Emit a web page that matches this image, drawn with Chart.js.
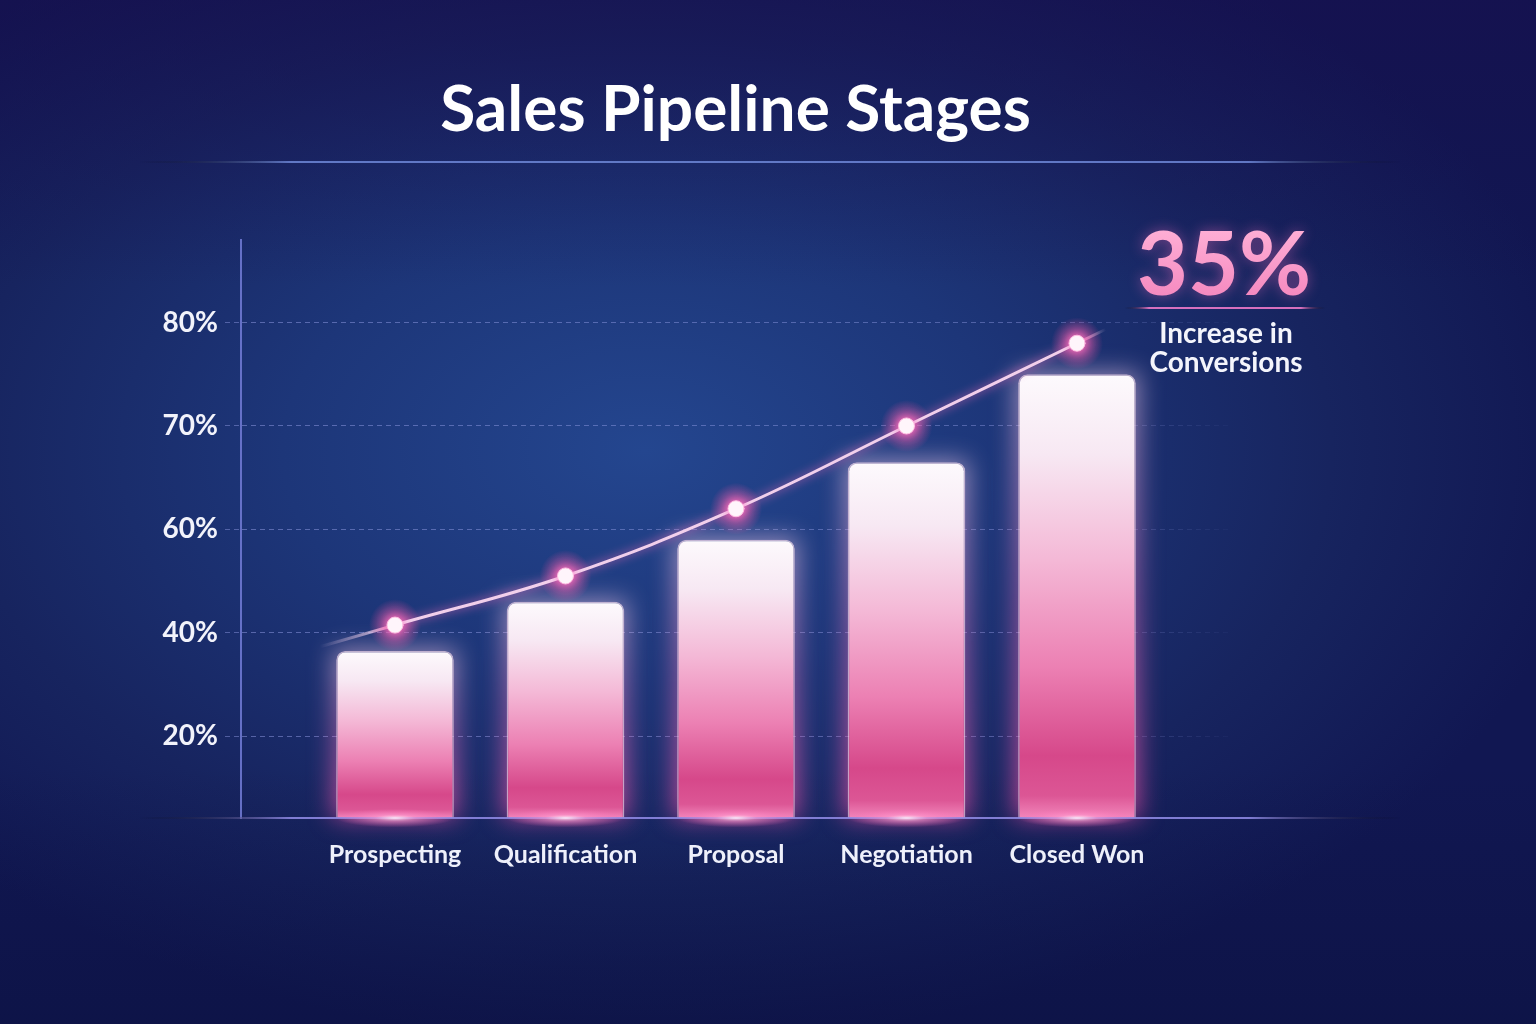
<!DOCTYPE html>
<html>
<head>
<meta charset="utf-8">
<title>Sales Pipeline Stages</title>
<script src="https://cdn.jsdelivr.net/npm/chart.js@4.4.1/dist/chart.umd.min.js"></script>
<style>
  html, body { margin: 0; padding: 0; width: 1536px; height: 1024px; overflow: hidden; }
  body {
    background:
      linear-gradient(to bottom, rgba(24,14,78,0.55) 0%, rgba(24,14,78,0) 28%, rgba(10,16,60,0) 75%, rgba(10,16,60,0.45) 100%),
      radial-gradient(ellipse 62% 58% at 42% 44%, #24468f 0%, #1d3679 38%, #17245f 72%, #111752 100%);
    background-color: #111752;
  }
  #wrap { position: absolute; left: 0; top: 0; width: 1536px; height: 1024px; }
</style>
</head>
<body>
<div id="wrap"><canvas id="c" width="1536" height="1024"></canvas></div>
<script>
// ---------------- data ----------------
const chartTitle = 'Sales Pipeline Stages';
const categories = ['Prospecting', 'Qualification', 'Proposal', 'Negotiation', 'Closed Won'];
const barValues = [36.5, 46, 58, 66.5, 75];
const lineValues = [41.5, 51, 62, 70, 78];
const yTickValues = [20, 40, 60, 70, 80];
const yTickLabels = ['20%', '40%', '60%', '70%', '80%'];
const highlightValue = '35%';
const highlightCaption = ['Increase in', 'Conversions'];

// ------------- stage (piecewise) scale: ticks evenly spaced -------------
const VALUE_KNOTS = [0, 20, 40, 60, 70, 80];
const UNIT_KNOTS = [0.21, 1, 2, 3, 4, 5];
function toUnit(v) {
  const n = VALUE_KNOTS.length;
  let i = 0;
  if (v <= VALUE_KNOTS[0]) i = 0;
  else if (v >= VALUE_KNOTS[n - 1]) i = n - 2;
  else { while (i < n - 2 && v > VALUE_KNOTS[i + 1]) i++; }
  const v0 = VALUE_KNOTS[i], v1 = VALUE_KNOTS[i + 1], u0 = UNIT_KNOTS[i], u1 = UNIT_KNOTS[i + 1];
  return u0 + (v - v0) / (v1 - v0) * (u1 - u0);
}
function fromUnit(u) {
  const n = UNIT_KNOTS.length;
  let i = 0;
  if (u <= UNIT_KNOTS[0]) i = 0;
  else if (u >= UNIT_KNOTS[n - 1]) i = n - 2;
  else { while (i < n - 2 && u > UNIT_KNOTS[i + 1]) i++; }
  const v0 = VALUE_KNOTS[i], v1 = VALUE_KNOTS[i + 1], u0 = UNIT_KNOTS[i], u1 = UNIT_KNOTS[i + 1];
  return v0 + (u - u0) / (u1 - u0) * (v1 - v0);
}
class StageScale extends Chart.LinearScale {
  static id = 'stage';
  static defaults = {};
  buildTicks() { return yTickValues.map(v => ({ value: v })); }
  getPixelForValue(value) {
    if (value === null || value === undefined || isNaN(value)) return NaN;
    const a = toUnit(this.min), b = toUnit(this.max);
    return this.getPixelForDecimal((toUnit(value) - a) / (b - a));
  }
  getValueForPixel(pixel) {
    const a = toUnit(this.min), b = toUnit(this.max);
    return fromUnit(a + this.getDecimalForPixel(pixel) * (b - a));
  }
}
Chart.register(StageScale);

// ------------- styling helpers -------------
const FONT = 'Lato, "Open Sans", "Noto Sans", sans-serif';
const CHART_LEFT = 241, CHART_RIGHT = 1230, CHART_BOTTOM = 818;

function barGradient(c) {
  const chart = c.chart;
  if (!chart.chartArea || !c.parsed) return '#ee8fbf';
  const ys = chart.scales.y;
  const top = ys.getPixelForValue(c.parsed.y);
  const bottom = ys.getPixelForValue(ys.min);
  const g = chart.ctx.createLinearGradient(0, top, 0, bottom);
  g.addColorStop(0, '#fdfafd');
  g.addColorStop(0.18, '#f7e8f3');
  g.addColorStop(0.42, '#f4b8d6');
  g.addColorStop(0.66, '#ec80b3');
  g.addColorStop(0.86, '#d6488a');
  g.addColorStop(0.95, '#dc5695');
  g.addColorStop(1, '#f286bb');
  return g;
}
function gridGradient(c) {
  const chart = c.chart;
  const ca = chart.chartArea;
  if (!ca) return 'rgba(150,160,232,0.45)';
  const g = chart.ctx.createLinearGradient(ca.left - 20, 0, ca.right + 20, 0);
  g.addColorStop(0, 'rgba(150,160,232,0.5)');
  g.addColorStop(0.8, 'rgba(150,160,232,0.42)');
  g.addColorStop(1, 'rgba(150,160,232,0)');
  return g;
}

function hLineFaded(ctx, x1, x2, y, color, width) {
  const g = ctx.createLinearGradient(x1, 0, x2, 0);
  g.addColorStop(0, 'rgba(0,0,0,0)');
  g.addColorStop(0.12, color);
  g.addColorStop(0.88, color);
  g.addColorStop(1, 'rgba(0,0,0,0)');
  ctx.save();
  ctx.strokeStyle = g;
  ctx.lineWidth = width;
  ctx.beginPath();
  ctx.moveTo(x1, y);
  ctx.lineTo(x2, y);
  ctx.stroke();
  ctx.restore();
}

const decor = {
  id: 'decor',
  beforeDatasetsDraw(chart) {
    const ctx = chart.ctx;
    hLineFaded(ctx, 140, 1400, 162, 'rgba(110,135,215,0.85)', 2);
  },
  beforeDatasetDraw(chart, args) {
    const ctx = chart.ctx;
    const meta = args.meta;
    ctx.save();
    if (meta.type === 'bar') {
      // soft glow behind each bar
      meta.data.forEach(b => {
        const h = b.base - b.y;
        const g = ctx.createLinearGradient(0, b.y, 0, b.base);
        g.addColorStop(0, 'rgba(255,215,240,0.55)');
        g.addColorStop(0.5, 'rgba(255,120,195,0.5)');
        g.addColorStop(1, 'rgba(255,80,170,0.7)');
        ctx.save();
        ctx.filter = 'blur(12px)';
        ctx.fillStyle = g;
        ctx.fillRect(b.x - b.width / 2 - 3, b.y - 2, b.width + 6, h + 2);
        ctx.restore();
      });
    } else if (meta.type === 'line') {
      const pts = meta.data;
      const col = 'rgba(250,215,240,0.95)';
      const p0 = pts[0], p1 = pts[1];
      let dx = p0.cp2x - p0.x, dy = p0.cp2y - p0.y;
      if (!isFinite(dx) || (Math.abs(dx) < 0.01 && Math.abs(dy) < 0.01)) { dx = p1.x - p0.x; dy = p1.y - p0.y; }
      let len = Math.hypot(dx, dy);
      const sx = p0.x - dx / len * 78, sy = p0.y - dy / len * 78;
      let g = ctx.createLinearGradient(sx, sy, p0.x, p0.y);
      g.addColorStop(0, 'rgba(250,215,240,0)');
      g.addColorStop(1, col);
      ctx.strokeStyle = g; ctx.lineWidth = 3; ctx.lineCap = 'round';
      ctx.beginPath(); ctx.moveTo(sx, sy); ctx.lineTo(p0.x, p0.y); ctx.stroke();
      const pn = pts[pts.length - 1], pm = pts[pts.length - 2];
      dx = pn.x - pn.cp1x; dy = pn.y - pn.cp1y;
      if (!isFinite(dx) || (Math.abs(dx) < 0.01 && Math.abs(dy) < 0.01)) { dx = pn.x - pm.x; dy = pn.y - pm.y; }
      len = Math.hypot(dx, dy);
      const ex = pn.x + dx / len * 32, ey = pn.y + dy / len * 32;
      g = ctx.createLinearGradient(pn.x, pn.y, ex, ey);
      g.addColorStop(0, col);
      g.addColorStop(1, 'rgba(250,215,240,0)');
      ctx.strokeStyle = g;
      ctx.beginPath(); ctx.moveTo(pn.x, pn.y); ctx.lineTo(ex, ey); ctx.stroke();
      pts.forEach(p => {
        const r = 26;
        const h = ctx.createRadialGradient(p.x, p.y, 0, p.x, p.y, r);
        h.addColorStop(0, 'rgba(255,180,220,0.95)');
        h.addColorStop(0.38, 'rgba(255,95,175,0.55)');
        h.addColorStop(1, 'rgba(255,80,160,0)');
        ctx.fillStyle = h;
        ctx.beginPath(); ctx.arc(p.x, p.y, r, 0, Math.PI * 2); ctx.fill();
      });
      ctx.shadowColor = 'rgba(255,110,190,0.9)';
      ctx.shadowBlur = 10;
    }
  },
  afterDatasetDraw(chart) {
    chart.ctx.restore();
  },
  afterDatasetsDraw(chart) {
    const ctx = chart.ctx;
    const ys = chart.scales.y;
    const y0 = ys.getPixelForValue(ys.min);
    hLineFaded(ctx, 140, 1400, y0, 'rgba(140,135,225,0.9)', 2);
    const barMeta = chart.getDatasetMeta(1);
    barMeta.data.forEach(b => {
      ctx.save();
      ctx.translate(b.x, y0);
      ctx.scale(1, 0.16);
      const rx = b.width * 0.5;
      const g = ctx.createRadialGradient(0, 0, 0, 0, 0, rx);
      g.addColorStop(0, 'rgba(255,240,250,0.95)');
      g.addColorStop(0.35, 'rgba(255,150,205,0.6)');
      g.addColorStop(1, 'rgba(255,110,185,0)');
      ctx.fillStyle = g;
      ctx.beginPath(); ctx.arc(0, 0, rx, 0, Math.PI * 2); ctx.fill();
      ctx.restore();
    });
  },
  afterDraw(chart) {
    const ctx = chart.ctx;
    const cx = 1224;
    ctx.save();
    ctx.font = 'bold 88px ' + FONT;
    ctx.textAlign = 'center';
    ctx.textBaseline = 'alphabetic';
    const g = ctx.createLinearGradient(0, 226, 0, 296);
    g.addColorStop(0, '#ffb0d6');
    g.addColorStop(1, '#f58ac0');
    ctx.shadowColor = 'rgba(255,110,190,0.45)';
    ctx.shadowBlur = 14;
    ctx.fillStyle = g;
    ctx.fillText(highlightValue, cx, 295);
    ctx.restore();
    hLineFaded(ctx, 1125, 1325, 308, 'rgba(235,120,200,0.9)', 2);
    ctx.save();
    ctx.font = 'bold 28px ' + FONT;
    ctx.fillStyle = '#f4f5fc';
    ctx.textAlign = 'center';
    ctx.textBaseline = 'middle';
    ctx.fillText(highlightCaption[0], cx + 2, 334);
    ctx.fillText(highlightCaption[1], cx + 2, 363);
    ctx.restore();
  }
};

const ctx = document.getElementById('c').getContext('2d');
new Chart(ctx, {
  data: {
    datasets: [
      {
        type: 'line',
        label: 'Conversion trend',
        data: categories.map((c, i) => ({ x: i, y: lineValues[i] })),
        borderColor: 'rgba(250,215,240,0.95)',
        borderWidth: 3,
        tension: 0.4,
        pointRadius: 8,
        pointBackgroundColor: '#ffffff',
        pointBorderColor: 'rgba(255,190,225,0.95)',
        pointBorderWidth: 1,
        order: 0
      },
      {
        type: 'bar',
        label: 'Stage rate',
        data: categories.map((c, i) => ({ x: i, y: barValues[i] })),
        backgroundColor: barGradient,
        borderColor: 'rgba(255,228,242,0.6)',
        borderWidth: 1.5,
        borderRadius: { topLeft: 9, topRight: 9, bottomLeft: 0, bottomRight: 0 },
        borderSkipped: 'start',
        barPercentage: 0.69,
        categoryPercentage: 1,
        order: 1
      }
    ]
  },
  options: {
    responsive: false,
    animation: false,
    devicePixelRatio: 1,
    layout: { padding: { left: 0, right: 1536 - CHART_RIGHT, top: 0, bottom: 100 } },
    plugins: {
      legend: { display: false },
      tooltip: { enabled: false },
      title: {
        display: true,
        text: chartTitle,
        fullSize: false,
        color: '#ffffff',
        font: { family: FONT, size: 64, weight: 'bold', lineHeight: 1.2 },
        padding: { top: 72, bottom: 91 }
      }
    },
    scales: {
      x: {
        type: 'linear',
        offset: false,
        min: -(395 - CHART_LEFT) / 170.5,
        max: 4 + (CHART_RIGHT - 1077) / 170.5,
        grid: { display: false },
        border: { display: false },
        ticks: {
          stepSize: 1,
          includeBounds: false,
          autoSkip: false,
          maxRotation: 0,
          padding: 14,
          color: '#eef0fb',
          font: { family: FONT, size: 25, weight: 'bold' },
          callback: v => (Number.isInteger(v) && categories[v] !== undefined) ? categories[v] : ''
        },
        afterFit: s => { s.height = 1024 - CHART_BOTTOM - 100; }
      },
      y: {
        type: 'stage',
        min: 0,
        max: 88,
        grid: {
          color: gridGradient,
          lineWidth: 1,
          drawTicks: true,
          tickLength: 16,
          tickBorderDash: [5, 4],
          tickColor: 'rgba(150,160,232,0.45)'
        },
        border: { display: true, color: 'rgba(115,125,215,0.85)', width: 2, dash: [5, 4] },
        ticks: {
          padding: 7,
          color: '#f2f3fb',
          font: { family: FONT, size: 28, weight: 'bold' },
          callback: (v) => yTickLabels[yTickValues.indexOf(v)]
        },
        afterFit: s => { s.width = CHART_LEFT; }
      }
    }
  },
  plugins: [decor]
});
</script>
</body>
</html>
